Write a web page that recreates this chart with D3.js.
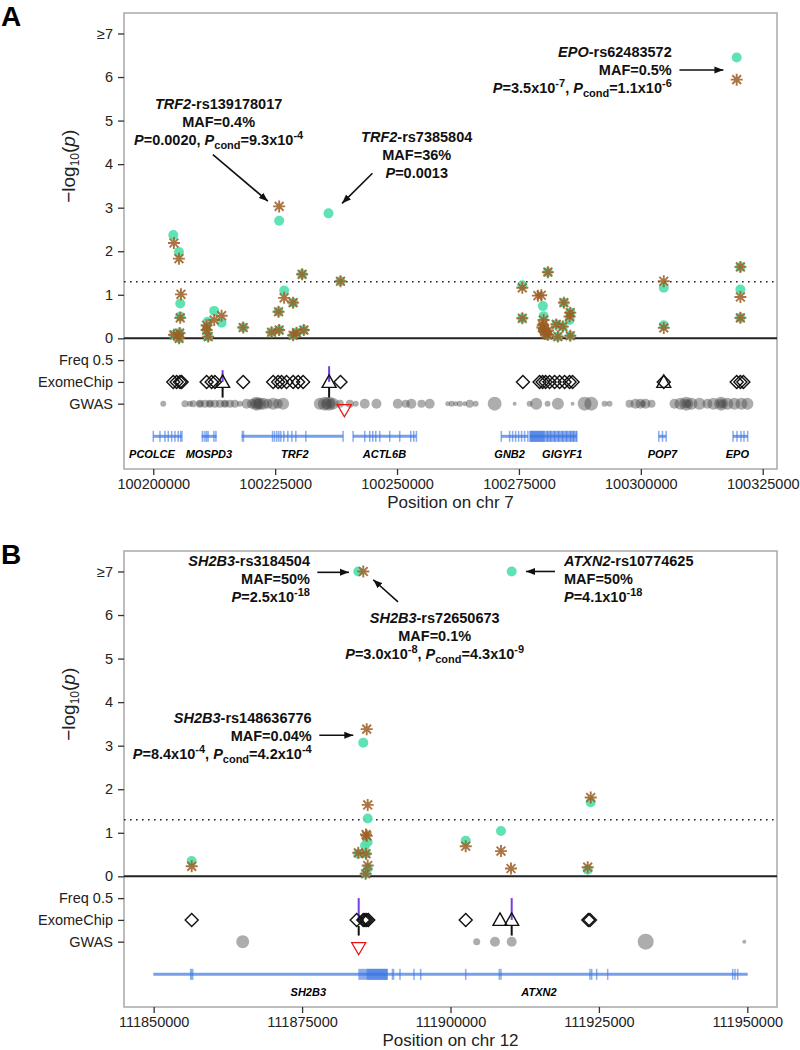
<!DOCTYPE html>
<html>
<head>
<meta charset="utf-8">
<script src="https://cdn.jsdelivr.net/npm/d3@7"></script>
<style>
	body { margin: 0; background: #fff; }
	svg { font-family: "Liberation Sans", Arial, sans-serif; }
</style>
</head>
<body>
<svg id="chart" width="800" height="1050"></svg>
<script>
// ---------- panel A data (chr 7) ----------
const aTicks = [100200000, 100225000, 100250000, 100275000, 100300000, 100325000];
const aCircles = [
	[100204100, 2.37], [100205270, 1.98], [100205536, 0.80], [100205536, 0.50], [100204245, 0.08], [100205400, 0.12], [100205300, 0.00],
	[100211150, 0.38], [100211273, 0.04], [100210945, 0.19], [100212500, 0.63], [100214020, 0.36], [100218445, 0.25],
	[100225820, 2.70], [100226846, 1.10], [100225700, 0.61], [100228690, 0.82], [100224264, 0.14], [100225820, 0.19],
	[100228690, 0.07], [100229386, 0.13], [100230882, 0.19], [100230534, 1.47], [100235943, 2.87], [100238402, 1.31],
	[100275694, 1.22], [100280939, 1.52], [100275694, 0.46], [100279915, 0.74], [100280058, 0.51], [100284217, 0.82],
	[100285529, 0.59], [100285385, 0.42], [100282660, 0.32], [100284013, 0.27], [100282988, 0.04], [100285529, 0.06],
	[100280939, 0.08], [100280000, 0.20],
	[100304707, 1.16], [100304707, 0.30], [100320423, 1.64], [100320423, 1.12], [100320423, 0.47], [100319665, 6.45]
];
const aStars = [
	[100204245, 2.19], [100205270, 1.83], [100205680, 1.01], [100205536, 0.47], [100204245, 0.08], [100205400, 0.12], [100205300, 0.00],
	[100210945, 0.30], [100211273, 0.04], [100210945, 0.19], [100212500, 0.42], [100214020, 0.52], [100218445, 0.25],
	[100225820, 3.03], [100226846, 0.93], [100225700, 0.61], [100228690, 0.82], [100224264, 0.14], [100225820, 0.19],
	[100228690, 0.07], [100229386, 0.13], [100230882, 0.19], [100230534, 1.47], [100238402, 1.31],
	[100275694, 1.16], [100280939, 1.52], [100275694, 0.46], [100279587, 0.99], [100278890, 0.98], [100280058, 0.42],
	[100279900, 0.30], [100280100, 0.22], [100280300, 0.15], [100280500, 0.10], [100279800, 0.25], [100281000, 0.18],
	[100284217, 0.82], [100285529, 0.59], [100285385, 0.50], [100282660, 0.32], [100284013, 0.27], [100282988, 0.04],
	[100285529, 0.06], [100280939, 0.08],
	[100304707, 1.31], [100304707, 0.24], [100320423, 1.64], [100320423, 0.95], [100320423, 0.47], [100319665, 5.94]
];
const aExome = [
	[100204100, 'd'], [100204800, 'd'], [100205475, 'd'], [100205823, 'd'],
	[100210945, 'd'], [100211970, 'd'], [100212646, 'd'], [100214224, 't'], [100218445, 'd'],
	[100224590, 'd'], [100225615, 'd'], [100226311, 'd'], [100227336, 'd'], [100228690, 'd'], [100229714, 'd'], [100230739, 'd'],
	[100236067, 't'], [100238402, 'd'],
	[100275818, 'd'], [100279238, 'd'], [100279853, 'd'], [100280468, 'd'], [100281287, 'd'], [100282312, 'd'],
	[100283336, 'd'], [100284361, 'd'], [100285385, 'd'], [100286000, 'd'],
	[100304707, 'd'], [100304707, 't'],
	[100319665, 'd'], [100320423, 'd'], [100321037, 'd']
];
const aFreq = [[100214224, 0.27], [100236067, 0.36], [100279853, 0.02]];
const aLinks = [100214224, 100236067];
const aRed = [100239200];
const aGwas = [
	[100202050, 3.7], [100206500, 4.4], [100207520, 3.7], [100208200, 4.4], [100209570, 5], [100209570, 4],
	[100210600, 5], [100211620, 5], [100211620, 4], [100212650, 5], [100213670, 5], [100214700, 5], [100214700, 4],
	[100215720, 5], [100216740, 5], [100217770, 3.7], [100219140, 6.2], [100220230, 6.2], [100221190, 8.7],
	[100221190, 7], [100221400, 6], [100221870, 7.5], [100222540, 7.5], [100223500, 6.2], [100224590, 7.5],
	[100225550, 6.2], [100226640, 7.5], [100234160, 7.5], [100235190, 8.7], [100235500, 7], [100236070, 8.7],
	[100236300, 6], [100236820, 7.5], [100238260, 5], [100240310, 5], [100241540, 3.7], [100243380, 6.2],
	[100245780, 6.2], [100250140, 6.2], [100251780, 5], [100252950, 6.2], [100255000, 5], [100256700, 6.2],
	[100260390, 3.1], [100261210, 3.7], [100262030, 3.1], [100262850, 3.7], [100263870, 3.1], [100264900, 5],
	[100266130, 3.7], [100270020, 8.7], [100274120, 2.5], [100277190, 3.7], [100278560, 7.5], [100280880, 3.7],
	[100282990, 7.5], [100286000, 2.5], [100288460, 8.7], [100289830, 8.7], [100292560, 3.7], [100293580, 3.7],
	[100297680, 5], [100298910, 6.2], [100299930, 6.2], [100300960, 6.2], [100300400, 4], [100302190, 5],
	[100306900, 6.2], [100308130, 7.5], [100309300, 8.7], [100309300, 6], [100309600, 5], [100310400, 7.5],
	[100312020, 7.5], [100313660, 6.2], [100314890, 7.5], [100316470, 8.7], [100316470, 6.5], [100316700, 5],
	[100317760, 7.5], [100319200, 7.5], [100320630, 7.5], [100321860, 7.5]
];
const aGenes = [
	{ name: 'PCOLCE', start: 100200004, end: 100205884, label: 100199737,
		exons: [100200004, 100201376, 100202400, 100203077, 100203774, 100204450, 100205126, 100205618, 100205884] },
	{ name: 'MOSPD3', start: 100209921, end: 100212994, label: 100211417,
		exons: [[100209921, 100210300], 100210597, 100210945, [100211100, 100211400], 100212441, [100212700, 100212994]] },
	{ name: 'TRF2', start: 100218117, end: 100238935, label: 100229040,
		exons: [[100218117, 100218650], 100224468, 100224878, 100225350, 100225760, 100226170, 100226785, 100227604,
			100228424, 100229243, 100231292, 100238935] },
	{ name: 'ACTL6B', start: 100240983, end: 100253974, label: 100247418,
		exons: [100240983, 100243381, 100244405, 100245020, 100245635, 100246454, 100248503, 100250552, 100252806,
			100253421, 100253974] },
	{ name: 'GNB2', start: 100271390, end: 100276840, label: 100273091,
		exons: [100271390, 100273089, 100273704, 100274319, 100274933, 100275548, 100276163, 100276840] },
	{ name: 'GIGYF1', start: 100277190, end: 100286882, label: 100283889,
		exons: [[100277190, 100286882], [100277190, 100280264], 100280880, 100281494, 100282314, 100283133, 100283953,
			100284772, 100285592, 100286207, 100286882] },
	{ name: 'POP7', start: 100303685, end: 100305201, label: 100304441,
		exons: [100303685, 100304443, 100305201] },
	{ name: 'EPO', start: 100318904, end: 100321916, label: 100319809,
		exons: [100318904, 100319724, 100320544, 100321158, 100321916] }
];
const aNotes = [
	{ at: [100213404, 5.39], anchor: 'middle', from: [100212236, 4.22], to: [100223506, 3.15],
		lines: [[['TRF2', 'i'], ['-rs139178017']], [['MAF=0.4%']],
			[['P', 'i'], ['=0.0020, '], ['P', 'i'], ['cond', 'sub'], ['=9.3x10'], ['-4', 'sup']]] },
	{ at: [100254036, 4.63], anchor: 'middle', from: [100244959, 3.79], to: [100238729, 3.10],
		lines: [[['TRF2', 'i'], ['-rs7385804']], [['MAF=36%']], [['P', 'i'], ['=0.0013']]] },
	{ at: [100306347, 6.58], anchor: 'end', from: [100307924, 6.16], to: [100316940, 6.16],
		lines: [[['EPO', 'i'], ['-rs62483572']], [['MAF=0.5%']],
			[['P', 'i'], ['=3.5x10'], ['-7', 'sup'], [', '], ['P', 'i'], ['cond', 'sub'], ['=1.1x10'], ['-6', 'sup']]] }
];

// ---------- panel B data (chr 12) ----------
const bTicks = [111850000, 111875000, 111900000, 111925000, 111950000];
const bCircles = [
	[111884468, 7.0], [111910308, 7.0], [111885310, 3.07], [111923616, 1.70], [111886051, 1.33], [111886051, 0.79],
	[111885596, 0.71], [111884468, 0.52], [111885765, 0.52], [111886051, 0.18], [111885715, 0.06], [111856404, 0.35],
	[111902560, 0.82], [111908506, 1.04], [111923110, 0.15]
];
const bStars = [
	[111885310, 7.0], [111885883, 3.38], [111923616, 1.81], [111886051, 1.64], [111885765, 0.96], [111885900, 0.93],
	[111884468, 0.54], [111885765, 0.52], [111886051, 0.25], [111885715, 0.06], [111856404, 0.23], [111902560, 0.69],
	[111908506, 0.58], [111910190, 0.18], [111923110, 0.21]
];
const bExome = [
	[111856404, 'd'], [111884197, 'd'], [111885310, 'd'], [111885596, 'd'], [111885883, 'd'], [111886152, 'd'],
	[111902560, 'd'], [111908337, 't'], [111910308, 't'], [111923212, 'd'], [111923496, 'd']
];
const bFreq = [[111884535, 0.5], [111910308, 0.5]];
const bLinks = [111884535, 111910308];
const bRed = [111884535];
const bGwas = [[111864995, 8.1], [111904413, 4.4], [111907494, 6.2], [111910308, 6.2], [111932880, 10], [111949490, 2.5]];
const bGenes = [
	{ name: 'SH2B3', start: 111849936, end: 111890533, label: 111876045,
		exons: [[111856100, 111856700], [111884468, 111889421], [111885883, 111889421], [111890095, 111890533]] },
	{ name: 'ATXN2', start: 111890533, end: 111950062, label: 111914907,
		exons: [111891492, 111893850, 111894978, 111902560, 111908220, 111908506, 111923496, 111923783, 111924625,
			111926478, 111947534, 111947922, 111948377] }
];
const bNotes = [
	{ at: [111876332, 7.25], anchor: 'end', from: [111877561, 6.98], to: [111882901, 6.98],
		lines: [[['SH2B3', 'i'], ['-rs3184504']], [['MAF=50%']], [['P', 'i'], ['=2.5x10'], ['-18', 'sup']]] },
	{ at: [111897337, 5.94], anchor: 'middle', from: [111891155, 6.30], to: [111886994, 6.81],
		lines: [[['SH2B3', 'i'], ['-rs72650673']], [['MAF=0.1%']],
			[['P', 'i'], ['=3.0x10'], ['-8', 'sup'], [', '], ['P', 'i'], ['cond', 'sub'], ['=4.3x10'], ['-9', 'sup']]] },
	{ at: [111919118, 7.25], anchor: 'start', from: [111917602, 7.0], to: [111912717, 7.0],
		lines: [[['ATXN2', 'i'], ['-rs10774625']], [['MAF=50%']], [['P', 'i'], ['=4.1x10'], ['-18', 'sup']]] },
	{ at: [111876618, 3.64], anchor: 'end', from: [111877898, 3.24], to: [111883625, 3.24],
		lines: [[['SH2B3', 'i'], ['-rs148636776']], [['MAF=0.04%']],
			[['P', 'i'], ['=8.4x10'], ['-4', 'sup'], [', '], ['P', 'i'], ['cond', 'sub'], ['=4.2x10'], ['-4', 'sup']]] }
];

const yTickValues = [-1.5, -1, -0.5, 0, 1, 2, 3, 4, 5, 6, 7];
const yTickNames = { '-1.5': 'GWAS', '-1': 'ExomeChip', '-0.5': 'Freq 0.5', '7': '\u22657' };

const svg = d3.select('#chart');
const plotLeft = 124;
const plotRight = 777;
const circleColor = '#4fe0ac';
const starColor = '#9c5d22';

svg.append('defs').append('marker')
	.attr('id', 'arrow')
	.attr('markerUnits', 'userSpaceOnUse')
	.attr('markerWidth', 10)
	.attr('markerHeight', 8)
	.attr('refX', 9)
	.attr('refY', 4)
	.attr('orient', 'auto')
	.append('path')
	.attr('d', 'M0,0.5 L9,4 L0,7.5 Z')
	.attr('fill', '#111');

drawPanel({
	letter: 'A', top: 13, bottom: 469, xDomain: [100194000, 100327930], ticks: aTicks, chr: 7,
	circles: aCircles, stars: aStars, exome: aExome, freq: aFreq, links: aLinks, red: aRed,
	gwas: aGwas, genes: aGenes, notes: aNotes
});
drawPanel({
	letter: 'B', top: 551, bottom: 1007, xDomain: [111845000, 111955000], ticks: bTicks, chr: 12,
	circles: bCircles, stars: bStars, exome: bExome, freq: bFreq, links: bLinks, red: bRed,
	gwas: bGwas, genes: bGenes, notes: bNotes
});

function drawPanel(p) {
	const g = svg.append('g');
	const x = d3.scaleLinear().domain(p.xDomain).range([plotLeft, plotRight]);
	const y = d3.scaleLinear().domain([-3, 7.47]).range([p.bottom, p.top]);
	const rScale = d3.scaleLinear().domain([0, 10]).range([0, 8]);

	// panel letter
	g.append('text')
		.attr('x', 1)
		.attr('y', p.top + 13)
		.style('font-size', '28px')
		.style('font-weight', 'bold')
		.text(p.letter);

	// frame
	g.append('rect')
		.attr('x', plotLeft)
		.attr('y', p.top)
		.attr('width', plotRight - plotLeft)
		.attr('height', p.bottom - p.top)
		.attr('fill', 'none')
		.attr('stroke', '#a8a8a8')
		.attr('stroke-width', 1.5);

	// genes
	const geneY = y(-2.25);
	const genes = g.append('g');
	p.genes.forEach(function(gene) {
		genes.append('line')
			.attr('x1', x(gene.start))
			.attr('x2', x(gene.end))
			.attr('y1', geneY)
			.attr('y2', geneY)
			.attr('stroke', '#4a80e6')
			.attr('stroke-opacity', 0.75)
			.attr('stroke-width', 3);
		gene.exons.forEach(function(ex) {
			let x0 = Array.isArray(ex) ? x(ex[0]) : x(ex) - 0.75;
			let w = Array.isArray(ex) ? x(ex[1]) - x(ex[0]) : 1.5;
			genes.append('rect')
				.attr('x', x0)
				.attr('y', geneY - 5.5)
				.attr('width', Math.max(w, 1.5))
				.attr('height', 11)
				.attr('fill', '#3a74e2')
				.attr('fill-opacity', 0.6);
		});
		genes.append('text')
			.attr('x', x(gene.label))
			.attr('y', y(-2.74))
			.attr('text-anchor', 'middle')
			.style('font-size', '11px')
			.style('font-weight', 'bold')
			.style('font-style', 'italic')
			.text(gene.name);
	});

	// GWAS bubbles
	g.append('g').selectAll('circle')
		.data(p.gwas)
		.join('circle')
		.attr('cx', d => x(d[0]))
		.attr('cy', y(-1.5))
		.attr('r', d => rScale(d[1]))
		.attr('fill', '#4a4a4a')
		.attr('fill-opacity', 0.45);

	// links, freq bars, red triangles
	g.append('g').selectAll('line')
		.data(p.links)
		.join('line')
		.attr('x1', d => x(d))
		.attr('x2', d => x(d))
		.attr('y1', y(-1.14))
		.attr('y2', y(-1.36))
		.attr('stroke', '#111')
		.attr('stroke-width', 2);
	g.append('g').selectAll('line')
		.data(p.freq)
		.join('line')
		.attr('x1', d => x(d[0]))
		.attr('x2', d => x(d[0]))
		.attr('y1', y(-1))
		.attr('y2', d => y(-1 + d[1]))
		.attr('stroke', '#7a3ce6')
		.attr('stroke-width', 2);
	g.append('g').selectAll('path')
		.data(p.red)
		.join('path')
		.attr('transform', d => 'translate(' + x(d) + ',' + y(-1.65) + ')')
		.attr('d', 'M-7,-5.5 L7,-5.5 L0,6.5 Z')
		.attr('fill', 'none')
		.attr('stroke', '#ee1111')
		.attr('stroke-width', 1.3);

	// ExomeChip markers
	g.append('g').selectAll('path')
		.data(p.exome)
		.join('path')
		.attr('transform', d => 'translate(' + x(d[0]) + ',' + y(-1) + ')')
		.attr('d', d => d[1] == 'd' ? 'M0,-6.5 L6.5,0 L0,6.5 L-6.5,0 Z' : 'M0,-7 L7,5.5 L-7,5.5 Z')
		.attr('fill', 'none')
		.attr('stroke', '#111')
		.attr('stroke-width', 1.4);

	// reference lines
	g.append('line')
		.attr('x1', plotLeft)
		.attr('x2', plotRight)
		.attr('y1', y(1.3))
		.attr('y2', y(1.3))
		.attr('stroke', '#222')
		.attr('stroke-width', 1.6)
		.attr('stroke-dasharray', '1.6,4.4');
	g.append('line')
		.attr('x1', plotLeft)
		.attr('x2', plotRight)
		.attr('y1', y(0))
		.attr('y2', y(0))
		.attr('stroke', '#222')
		.attr('stroke-width', 2);

	// association points
	g.append('g').selectAll('circle')
		.data(p.circles)
		.join('circle')
		.attr('cx', d => x(d[0]))
		.attr('cy', d => y(d[1]))
		.attr('r', 5)
		.attr('fill', circleColor)
		.attr('fill-opacity', 0.9);
	const s = 6, k = 4.4;
	g.append('g').selectAll('path')
		.data(p.stars)
		.join('path')
		.attr('transform', d => 'translate(' + x(d[0]) + ',' + y(d[1]) + ')')
		.attr('d', 'M0,' + -s + 'V' + s + 'M' + -s + ',0H' + s +
			'M' + -k + ',' + -k + 'L' + k + ',' + k + 'M' + -k + ',' + k + 'L' + k + ',' + -k)
		.attr('stroke', starColor)
		.attr('stroke-width', 1.9)
		.attr('stroke-opacity', 0.85)
		.attr('fill', 'none');

	// annotations
	p.notes.forEach(function(note) {
		g.append('line')
			.attr('x1', x(note.from[0]))
			.attr('y1', y(note.from[1]))
			.attr('x2', x(note.to[0]))
			.attr('y2', y(note.to[1]))
			.attr('stroke', '#111')
			.attr('stroke-width', 1.6)
			.attr('marker-end', 'url(#arrow)');
		richText(g, note.lines, x(note.at[0]), y(note.at[1]) + 5, note.anchor);
	});

	// axes
	const yAxis = g.append('g')
		.attr('transform', 'translate(' + plotLeft + ',0)')
		.call(d3.axisLeft(y)
			.tickValues(yTickValues)
			.tickSize(6)
			.tickPadding(5)
			.tickFormat(d => yTickNames[String(d)] || String(d)));
	const xAxis = g.append('g')
		.attr('transform', 'translate(0,' + p.bottom + ')')
		.call(d3.axisBottom(x)
			.tickValues(p.ticks)
			.tickSize(6)
			.tickPadding(4)
			.tickFormat(d3.format('d')));
	[yAxis, xAxis].forEach(function(ax) {
		ax.select('.domain').remove();
		ax.selectAll('.tick line').attr('stroke', '#333').attr('stroke-width', 1.3);
		ax.selectAll('.tick text')
			.attr('fill', '#222')
			.style('font-size', '14.5px')
			.style('font-family', '"Liberation Sans", Arial, sans-serif');
	});

	g.append('text')
		.attr('x', (plotLeft + plotRight) / 2)
		.attr('y', p.bottom + 39)
		.attr('text-anchor', 'middle')
		.style('font-size', '17px')
		.attr('fill', '#222')
		.text('Position on chr ' + p.chr);

	const yTitle = g.append('text')
		.attr('transform', 'translate(75,' + y(3.95) + ') rotate(-90)')
		.attr('text-anchor', 'middle')
		.style('font-size', '19px')
		.attr('fill', '#222');
	yTitle.append('tspan').text('\u2212log');
	yTitle.append('tspan').attr('dy', 4).style('font-size', '12px').text('10');
	yTitle.append('tspan').attr('dy', -4).text('(');
	yTitle.append('tspan').style('font-style', 'italic').text('p');
	yTitle.append('tspan').text(')');
}

function richText(g, lines, px, py, anchor) {
	const t = g.append('text')
		.attr('text-anchor', anchor)
		.style('font-size', '14.5px')
		.style('font-weight', 'bold')
		.attr('fill', '#111');

	lines.forEach(function(line, li) {
		let cur = 0;
		line.forEach(function(seg, si) {
			let style = seg[1] || '';
			let target = style == 'sup' ? -6 : (style == 'sub' ? 4 : 0);
			let ts = t.append('tspan').text(seg[0]);

			if (si == 0)
				ts.attr('x', px).attr('y', py + li * 18 + target);
			else
				ts.attr('dy', target - cur);
			cur = target;

			if (style == 'i')
				ts.style('font-style', 'italic');
			if (style == 'sup' || style == 'sub')
				ts.style('font-size', '11px');
		});
	});
}
</script>
</body>
</html>
